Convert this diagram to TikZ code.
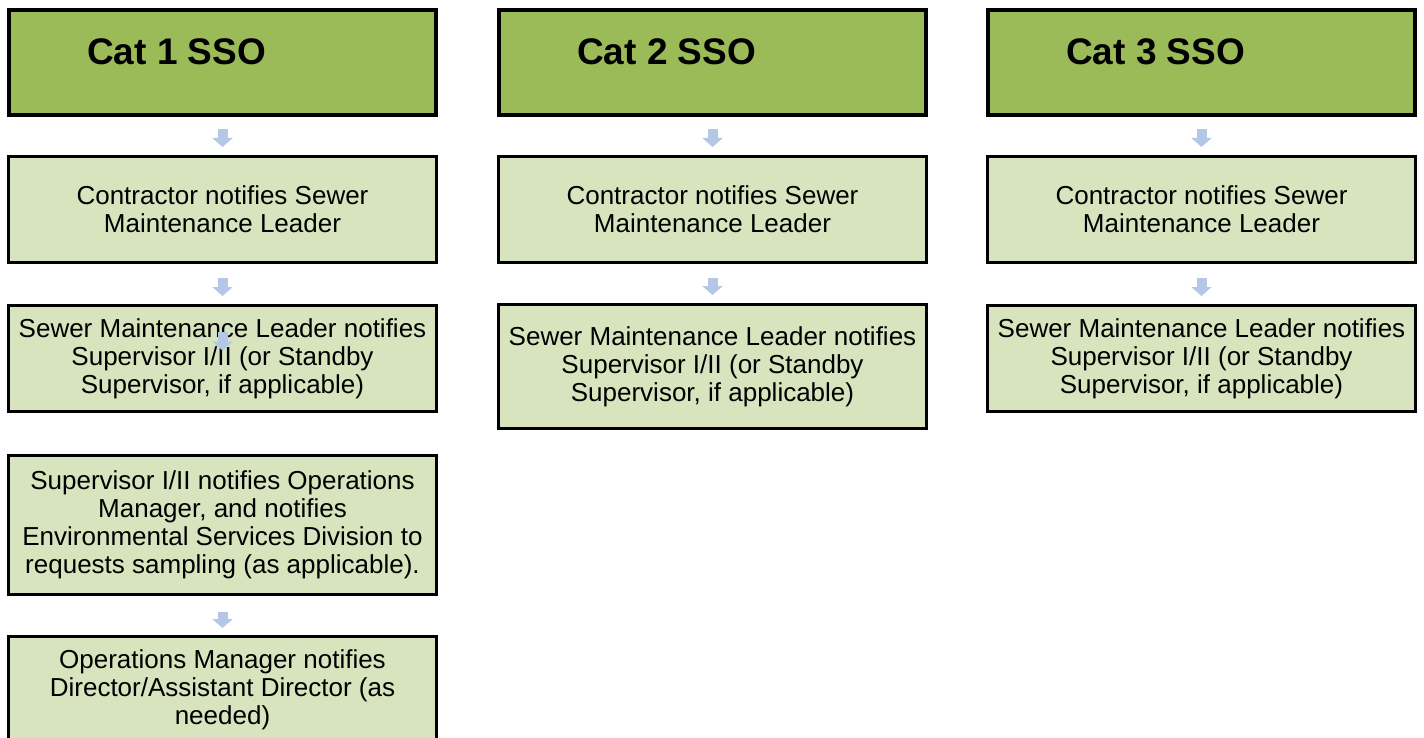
\documentclass[tikz,border=0pt]{standalone}
\usepackage{fontspec}
\setmainfont{Liberation Sans}
\usetikzlibrary{positioning,calc,arrows.meta}
\definecolor{catgreen}{HTML}{9BBB59}
\definecolor{stepgreen}{HTML}{D7E4BD}
\definecolor{flowblue}{HTML}{B4C7E7}
\tikzset{
  catbox/.style={draw=black,line width=4pt,fill=catgreen,minimum width=427pt,minimum height=105pt,inner sep=0pt},
  cattext/.style={inner sep=0pt,anchor=base west,font=\fontsize{37}{40}\selectfont\bfseries},
  stepbox/.style={draw=black,line width=2.8pt,fill=stepgreen,minimum width=428.2pt,minimum height=106.2pt,inner sep=0pt,align=center,font=\fontsize{26}{28}\selectfont},
  flow/.style={draw=flowblue,line width=10pt,-{Triangle[width=20pt 0,length=9pt 0]},shorten <=12pt,shorten >=8pt}
}

\begin{document}
\begin{tikzpicture}[x=1pt,y=1pt]
        \useasboundingbox (0,0) rectangle (1424,-738);

        \node[catbox] (c1) at (222.5,-62.5) {};
        \node[cattext] at ($(c1.west)+(80,-2.5)$) {Cat 1 SSO};
        \node[stepbox,below=38pt of c1] (c1a) {Contractor notifies Sewer\\Maintenance Leader};
        \node[stepbox,below=40pt of c1a] (c1b) {Sewer Maintenance Leader notifies\\Supervisor I/II (or Standby\\Supervisor, if applicable)};
        \node[stepbox,minimum height=139.2pt,below=41pt of c1b] (c1c) {Supervisor I/II notifies Operations\\Manager, and notifies\\Environmental Services Division to\\requests sampling (as applicable).};
        \node[stepbox,minimum height=107.2pt,below=39pt of c1c] (c1d) {Operations Manager notifies\\Director/Assistant Director (as\\needed)};

        \node[catbox] (c2) at (712.5,-62.5) {};
        \node[cattext] at ($(c2.west)+(80,-2.5)$) {Cat 2 SSO};
        \node[stepbox,below=38pt of c2] (c2a) {Contractor notifies Sewer\\Maintenance Leader};
        \node[stepbox,minimum height=124.2pt,below=39pt of c2a] (c2b) {Sewer Maintenance Leader notifies\\Supervisor I/II (or Standby\\Supervisor, if applicable)};

        \node[catbox] (c3) at (1201.5,-62.5) {};
        \node[cattext] at ($(c3.west)+(80,-2.5)$) {Cat 3 SSO};
        \node[stepbox,below=38pt of c3] (c3a) {Contractor notifies Sewer\\Maintenance Leader};
        \node[stepbox,below=40pt of c3a] (c3b) {Sewer Maintenance Leader notifies\\Supervisor I/II (or Standby\\Supervisor, if applicable)};

        \draw[flow] (c1) -- (c1a);
        \draw[flow,shorten <=14pt] (c1a) -- (c1b);
        \draw[flow,shorten <=28pt,shorten >=8pt] (c1b.north) -- (c1b.center);
        \draw[flow,shorten <=16pt,shorten >=7pt] (c1c) -- (c1d);

        \draw[flow] (c2) -- (c2a);
        \draw[flow,shorten <=14pt] (c2a) -- (c2b);

        \draw[flow] (c3) -- (c3a);
        \draw[flow,shorten <=14pt] (c3a) -- (c3b);
    \end{tikzpicture}
\end{document}
